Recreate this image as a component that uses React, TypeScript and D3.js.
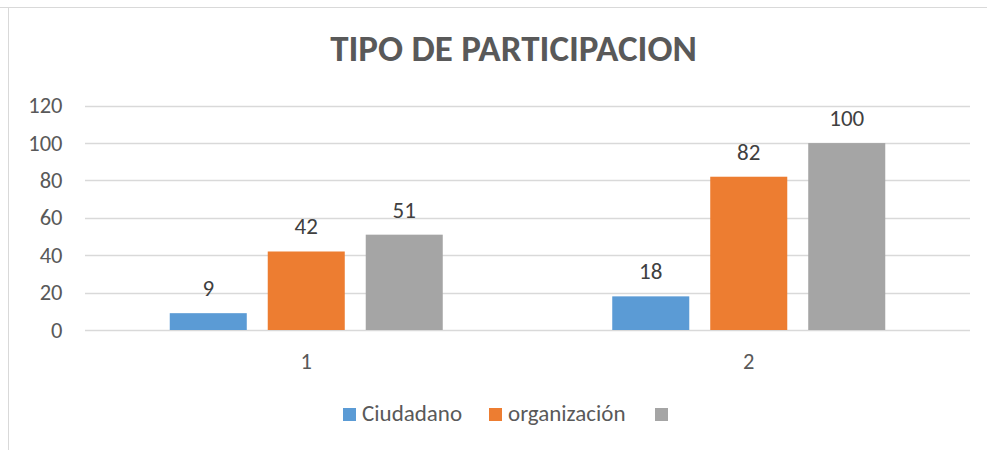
import React, { useRef, useEffect } from 'react';
import * as d3 from 'd3';

const categories = ['1', '2'];
const seriesNames = ['Ciudadano', 'organización', ''];
const ciudadano = [9, 18];
const organizacion = [42, 82];
const tercera = [51, 100];
const yTicks = [0, 20, 40, 60, 80, 100, 120];

const colors = ['#5B9BD5', '#ED7D31', '#A5A5A5'];
const WIDTH = 987;
const HEIGHT = 450;
const FONT = 'Carlito, Calibri, "Open Sans", sans-serif';

const App: React.FC = () => {
  const svgRef = useRef<SVGSVGElement>(null);

  useEffect(() => {
    if (!svgRef.current) return;
    const svg = d3.select(svgRef.current);
    svg.selectAll('*').remove();

    const values = [ciudadano, organizacion, tercera];

    // marco del gráfico
    svg.append('rect')
      .attr('x', 0).attr('y', 0).attr('width', WIDTH).attr('height', HEIGHT)
      .attr('fill', '#fff');
    svg.append('path')
      .attr('d', `M0,7.5 H${WIDTH} M8.5,7 V${HEIGHT}`)
      .attr('stroke', '#D9D9D9').attr('fill', 'none');

    const x0 = d3.scaleBand<string>()
      .domain(categories)
      .range([85, 970]);

    const x1 = d3.scaleBand<number>()
      .domain([0, 1, 2])
      .range([84.75, 442.5 - 84.75])
      .paddingInner(0.214);

    const y = d3.scaleLinear()
      .domain([0, 120])
      .range([330, 105.7]);

    // líneas de cuadrícula
    svg.append('g')
      .selectAll('line')
      .data(yTicks)
      .join('line')
      .attr('x1', 85).attr('x2', 970)
      .attr('y1', d => Math.round(y(d)) + 0.5)
      .attr('y2', d => Math.round(y(d)) + 0.5)
      .attr('stroke', '#D9D9D9')
      .attr('stroke-width', 1.5);

    // etiquetas del eje Y
    svg.append('g')
      .selectAll('text')
      .data(yTicks)
      .join('text')
      .attr('x', 62.5)
      .attr('y', d => y(d) + 7.5)
      .attr('text-anchor', 'end')
      .attr('font-family', FONT)
      .attr('font-size', 22.5)
      .attr('fill', '#595959')
      .text(d => d);

    // barras
    categories.forEach((cat, ci) => {
      const g = svg.append('g').attr('transform', `translate(${x0(cat)},0)`);
      values.forEach((vals, si) => {
        const v = vals[ci];
        g.append('rect')
          .attr('x', x1(si)!)
          .attr('y', y(v))
          .attr('width', x1.bandwidth())
          .attr('height', y(0) - y(v))
          .attr('fill', colors[si]);
        g.append('text')
          .attr('x', x1(si)! + x1.bandwidth() / 2)
          .attr('y', y(v) - 17)
          .attr('text-anchor', 'middle')
          .attr('font-family', FONT)
          .attr('font-size', 23)
          .attr('fill', '#404040')
          .text(v);
      });
      svg.append('text')
        .attr('x', x0(cat)! + x0.bandwidth() / 2)
        .attr('y', 369)
        .attr('text-anchor', 'middle')
        .attr('font-family', FONT)
        .attr('font-size', 22.5)
        .attr('fill', '#595959')
        .text(cat);
    });

    // título
    svg.append('text')
      .attr('x', 513.5)
      .attr('y', 61)
      .attr('text-anchor', 'middle')
      .attr('font-family', FONT)
      .attr('font-size', 37)
      .attr('font-weight', 'bold')
      .attr('fill', '#595959')
      .text('TIPO DE PARTICIPACION');

    // leyenda
    const legendX = [343, 489, 655];
    const legend = svg.append('g');
    seriesNames.forEach((name, i) => {
      legend.append('rect')
        .attr('x', legendX[i]).attr('y', 408)
        .attr('width', 13).attr('height', 13)
        .attr('fill', colors[i]);
      legend.append('text')
        .attr('x', legendX[i] + 19)
        .attr('y', 421)
        .attr('font-family', FONT)
        .attr('font-size', 23)
        .attr('fill', '#595959')
        .text(name);
    });
  }, []);

  return (
    <svg ref={svgRef} width={WIDTH} height={HEIGHT} style={{ display: 'block', position: 'absolute', left: 0, top: 0 }}></svg>
  );
};

export default App;
